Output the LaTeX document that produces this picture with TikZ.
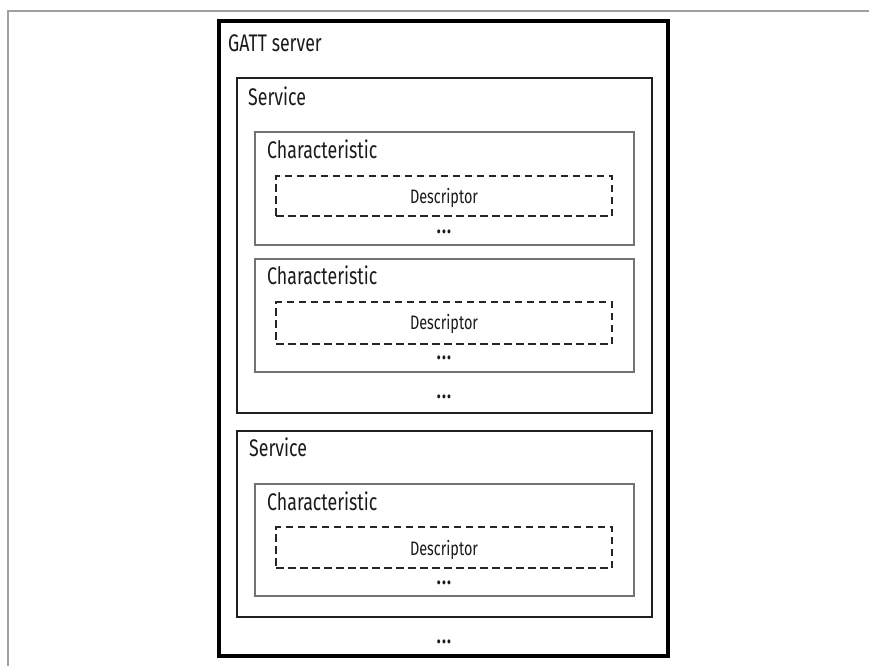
\documentclass[tikz,border=0pt]{standalone}
\usepackage{fontspec}
\setmainfont{Fira Sans}[FakeStretch=0.74]
\definecolor{framecol}{HTML}{A0A0A0}
\definecolor{txt}{HTML}{1A1A1A}
\begin{document}
\begin{tikzpicture}[x=1pt,y=-1pt,
  box/.style={rectangle, inner sep=0pt, outer sep=0pt, anchor=north west},
  gattbox/.style={box, draw=black, line width=4pt},
  servbox/.style={box, draw=black!88, line width=2pt},
  charbox/.style={box, draw=black!55, line width=1.2pt},
  descbox/.style={box, draw=black!85, line width=2.2pt, dash pattern=on 7.5pt off 4.5pt},
  title/.style={font=\fontsize{24}{26}\selectfont, anchor=base west, inner sep=0pt, text=txt},
  desctext/.style={font=\fontsize{19.5}{21}\selectfont, anchor=base, inner sep=0pt, text=txt},
  dots/.style={font=\fontsize{22}{24}\selectfont\bfseries, anchor=base, inner sep=0pt, text=txt}
]
\useasboundingbox (0,0) rectangle (869,666);
\draw[framecol, line width=1.2pt] (8,666) -- (8,11) -- (869,11);

% GATT server
\node[gattbox, minimum width=449pt, minimum height=635pt] (gatt) at (219,21) {};
\node[title] (gattt) at (228,52) {GATT server};

% Service 1
\node[servbox, minimum width=415pt, minimum height=335pt] (s1) at (237,78) {};
\node[title] (s1t) at (248,106) {Service};

\node[charbox, minimum width=379pt, minimum height=113pt] (c1) at (255,132) {};
\node[title] (c1t) at (267,158) {Characteristic};
\node[descbox, minimum width=336pt, minimum height=40pt] (d1) at (276,176) {};
\node[desctext] (d1t) at (444,203) {Descriptor};
\node[dots] (c1d) at (444,233) {.\kern1.2pt.\kern1.2pt.};

\node[charbox, minimum width=379pt, minimum height=113pt] (c2) at (255,259) {};
\node[title] (c2t) at (267,284) {Characteristic};
\node[descbox, minimum width=336pt, minimum height=42pt] (d2) at (276,302) {};
\node[desctext] (d2t) at (444,329) {Descriptor};
\node[dots] (c2d) at (444,359) {.\kern1.2pt.\kern1.2pt.};

\node[dots] (s1d) at (444,398) {.\kern1.2pt.\kern1.2pt.};

% Service 2
\node[servbox, minimum width=415pt, minimum height=186pt] (s2) at (237,431) {};
\node[title] (s2t) at (249,456) {Service};

\node[charbox, minimum width=379pt, minimum height=112pt] (c3) at (255,484) {};
\node[title] (c3t) at (267,510) {Characteristic};
\node[descbox, minimum width=336pt, minimum height=41pt] (d3) at (276,527) {};
\node[desctext] (d3t) at (444,555) {Descriptor};
\node[dots] (c3d) at (444,584) {.\kern1.2pt.\kern1.2pt.};

\node[dots] (gd) at (444,643) {.\kern1.2pt.\kern1.2pt.};
\end{tikzpicture}
\end{document}
